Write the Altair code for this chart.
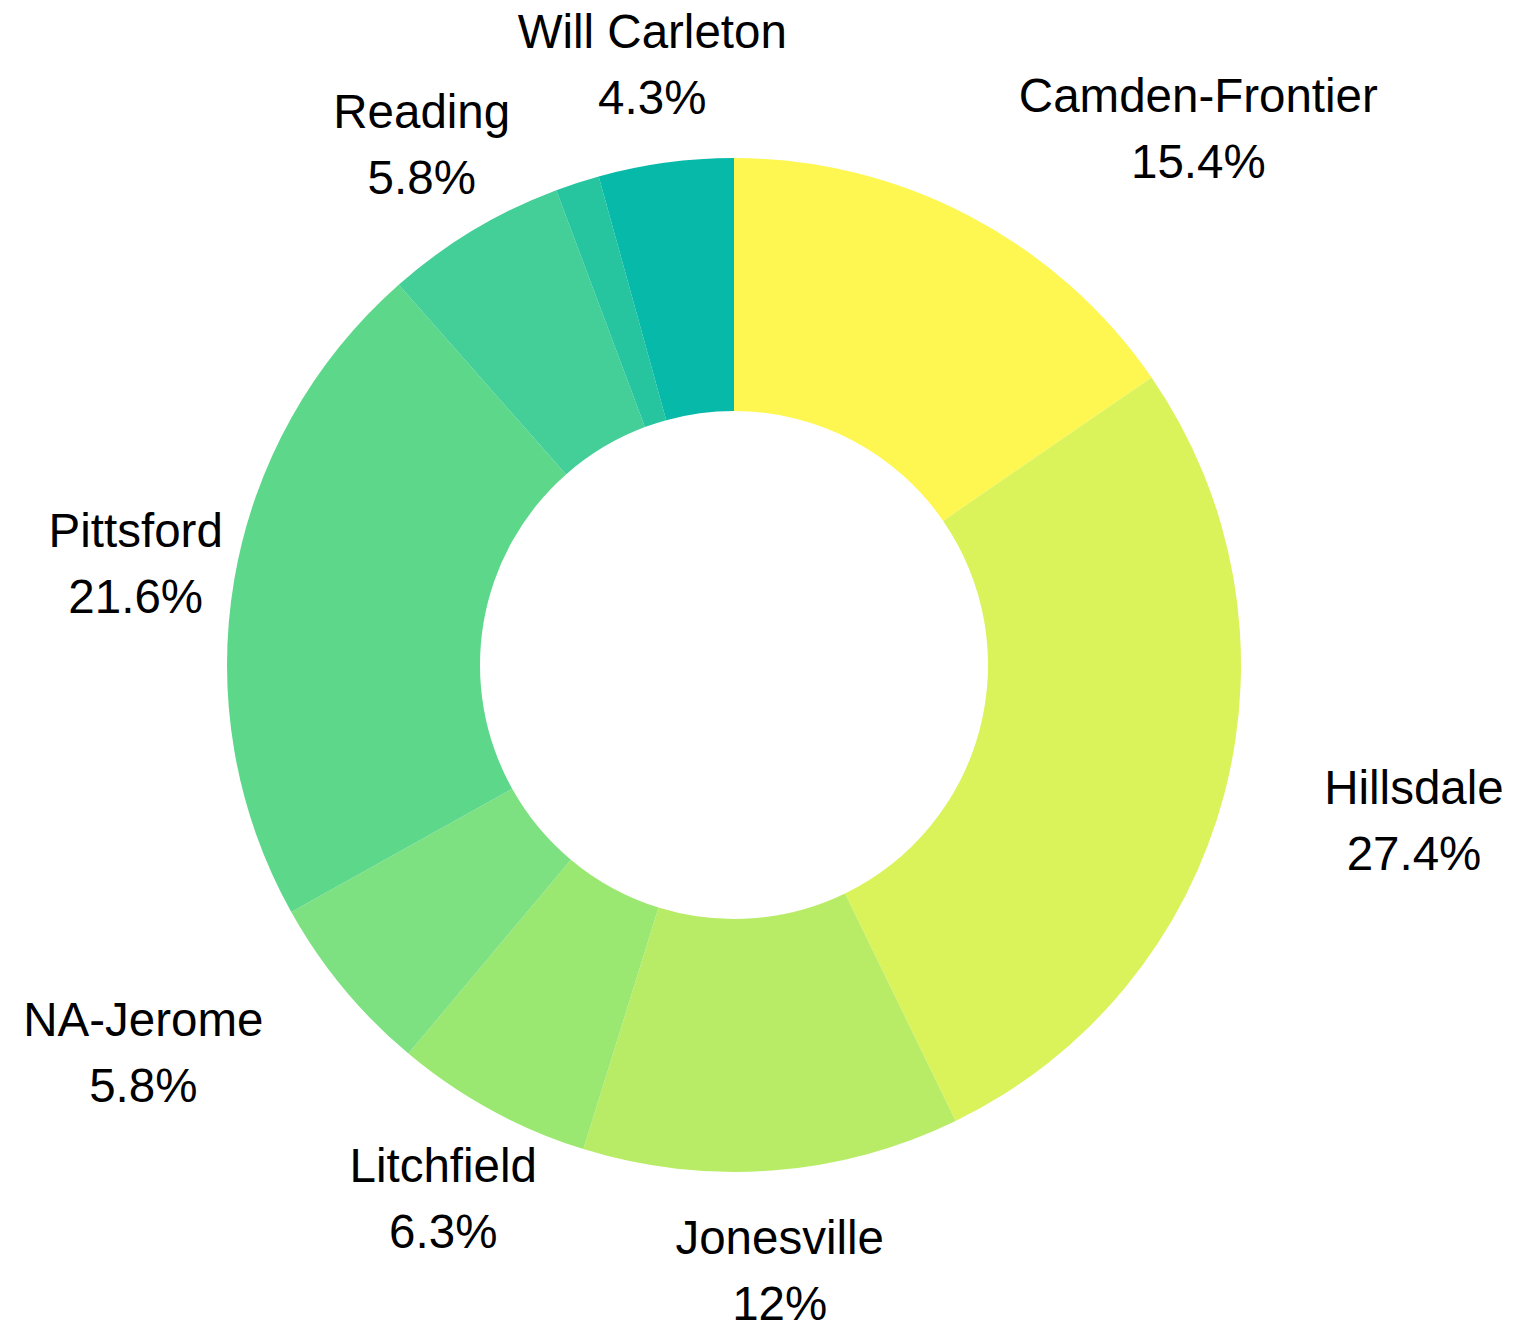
import altair as alt
import pandas as pd
import json

districts = ["Camden-Frontier", "Hillsdale", "Jonesville", "Litchfield", "NA-Jerome",
             "Pittsford", "Reading", "Waldron", "Will Carleton"]
shares = [15.4, 27.4, 12, 6.3, 5.8, 21.6, 5.8, 1.4, 4.3]
colors = ["#fef752", "#dbf35a", "#b8ec66", "#9ae871", "#7de081",
          "#5dd88a", "#43cf97", "#26c59f", "#06b9a8"]
hidden_labels = ["Waldron"]
# labels that are pushed sideways (away from the ring) instead of centred on their anchor
shifted = {"Camden-Frontier": 182, "Hillsdale": 93, "NA-Jerome": -123}
center_labels = [d for d in districts if d not in list(shifted) + hidden_labels]

df = pd.DataFrame({"district": districts, "share": shares, "order": list(range(len(districts)))})

base = alt.Chart(df).encode(
    theta=alt.Theta("share:Q", stack=True),
    order=alt.Order("order:Q", sort="ascending"),
)

arcs = base.mark_arc(outerRadius=507, innerRadius=254).encode(
    color=alt.Color("district:N", scale=alt.Scale(domain=districts, range=colors), legend=None)
)

def label_layer(names, dx=0):
    expr = ("indexof(%s, datum.district) >= 0 ? [datum.district, datum.share + '%%'] : ''"
            % json.dumps(names))
    return base.mark_text(
        radius=607, align="center", baseline="middle", font="Liberation Sans",
        fontSize=47.5, lineHeight=66, color="black", dx=dx, dy=-30
    ).transform_calculate(label=expr).encode(text="label:N")

layers = [arcs, label_layer(center_labels)]
for name, dx in shifted.items():
    layers.append(label_layer([name], dx))

chart = alt.layer(*layers).properties(
    width=1452, height=1314,
    padding={"left": 0, "top": 0, "right": 46, "bottom": 0},
    autosize="none"
).configure_view(stroke=None)

chart.save("out.html", embed_options={"renderer": "svg", "actions": False})
